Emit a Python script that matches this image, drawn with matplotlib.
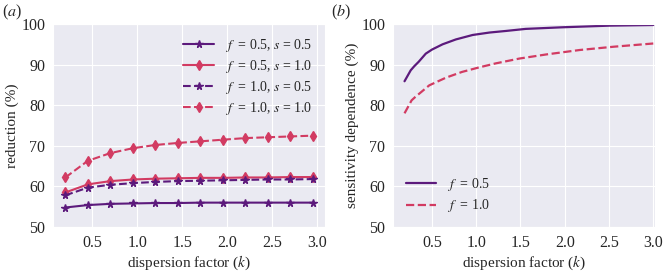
import matplotlib
matplotlib.use("Agg")
import matplotlib.pyplot as plt
import seaborn as sns
from matplotlib import font_manager

sns.set_style("darkgrid")
names = sorted({f.name for f in font_manager.fontManager.ttflist})
serif = [n for n in ['Liberation Serif', 'Times New Roman', 'Nimbus Roman', 'DejaVu Serif'] if n in names]
plt.rcParams['font.family'] = serif
plt.rcParams['mathtext.fontset'] = 'stix'

PURPLE = '#5c1a7c'
RED = '#d23b62'

# Panel (a)
k_a = [0.2, 0.45, 0.7, 0.95, 1.2, 1.45, 1.7, 1.95, 2.2, 2.45, 2.7, 2.95]
red_f05_s05 = [54.8, 55.4, 55.7, 55.8, 55.9, 55.9, 56.0, 56.0, 56.0, 56.0, 56.0, 56.0]
red_f05_s10 = [58.5, 60.5, 61.3, 61.7, 61.9, 62.0, 62.1, 62.1, 62.2, 62.2, 62.3, 62.3]
red_f10_s05 = [57.8, 59.7, 60.4, 60.8, 61.1, 61.3, 61.4, 61.5, 61.6, 61.7, 61.7, 61.8]
red_f10_s10 = [62.2, 66.3, 68.2, 69.4, 70.2, 70.7, 71.1, 71.5, 71.9, 72.1, 72.3, 72.5]

# Panel (b)
k_b1 = [0.19, 0.26, 0.30, 0.35, 0.43, 0.5, 0.62, 0.77, 0.96, 1.15, 1.34, 1.56, 1.98, 2.51, 3.0]
sens_f05 = [85.9, 88.6, 89.6, 90.7, 92.7, 93.7, 95.0, 96.2, 97.3, 97.9, 98.3, 98.8, 99.2, 99.6, 99.75]
k_b2 = [0.19, 0.27, 0.31, 0.47, 0.66, 0.84, 1.03, 1.22, 1.49, 1.79, 2.17, 2.55, 3.0]
sens_f10 = [78.0, 81.2, 82.0, 84.9, 86.8, 88.2, 89.3, 90.3, 91.5, 92.5, 93.6, 94.4, 95.2]

yticks = [50, 60, 70, 80, 90, 100]
xticks = [0.5, 1.0, 1.5, 2.0, 2.5, 3.0]

fig = plt.figure(figsize=(6.65, 2.71), dpi=100)
ax1 = fig.add_axes([0.0797, 0.1624, 0.409, 0.749])
ax2 = fig.add_axes([0.591, 0.1624, 0.394, 0.749])

ax1.plot(k_a, red_f05_s05, '-', color=PURPLE, marker='*', ms=5.5, lw=1.5, label=r'$f$  = 0.5, $s$ = 0.5')
ax1.plot(k_a, red_f05_s10, '-', color=RED, marker='d', ms=5, lw=1.5, label=r'$f$  = 0.5, $s$ = 1.0')
ax1.plot(k_a, red_f10_s05, '--', color=PURPLE, marker='*', ms=5.5, lw=1.5, label=r'$f$  = 1.0, $s$ = 0.5')
ax1.plot(k_a, red_f10_s10, '--', color=RED, marker='d', ms=5, lw=1.5, label=r'$f$  = 1.0, $s$ = 1.0')
ax1.set_ylim(50, 100)
ax1.set_xlim(0.0625, 3.0875)
ax1.set_yticks(yticks)
ax1.set_xticks(xticks)
ax1.set_xlabel(r'dispersion factor ($k$)', fontsize=11, labelpad=2)
ax1.set_ylabel('reduction (%)', fontsize=11, labelpad=2)
ax1.legend(loc='upper right', frameon=False, fontsize=10, handlelength=2.2, labelspacing=0.3)

ax2.plot(k_b1, sens_f05, '-', color=PURPLE, lw=1.6, label=r'$f$  = 0.5')
ax2.plot(k_b2, sens_f10, '--', color=RED, lw=1.6, label=r'$f$  = 1.0')
ax2.set_ylim(50, 100)
ax2.set_xlim(0.06, 3.02)
ax2.set_yticks(yticks)
ax2.set_xticks(xticks)
ax2.set_xlabel(r'dispersion factor ($k$)', fontsize=11, labelpad=2)
ax2.set_ylabel('sensitivity dependence (%)', fontsize=11, labelpad=2)
ax2.legend(loc='lower left', frameon=False, fontsize=10, handlelength=2.2, labelspacing=0.3)

for ax in (ax1, ax2):
    ax.tick_params(labelsize=11.5, pad=2)

fig.text(0.003, 0.955, r'($a$)', fontsize=11.5, va='center')
fig.text(0.498, 0.955, r'($b$)', fontsize=11.5, va='center')

fig.savefig('out.png', dpi=100)
